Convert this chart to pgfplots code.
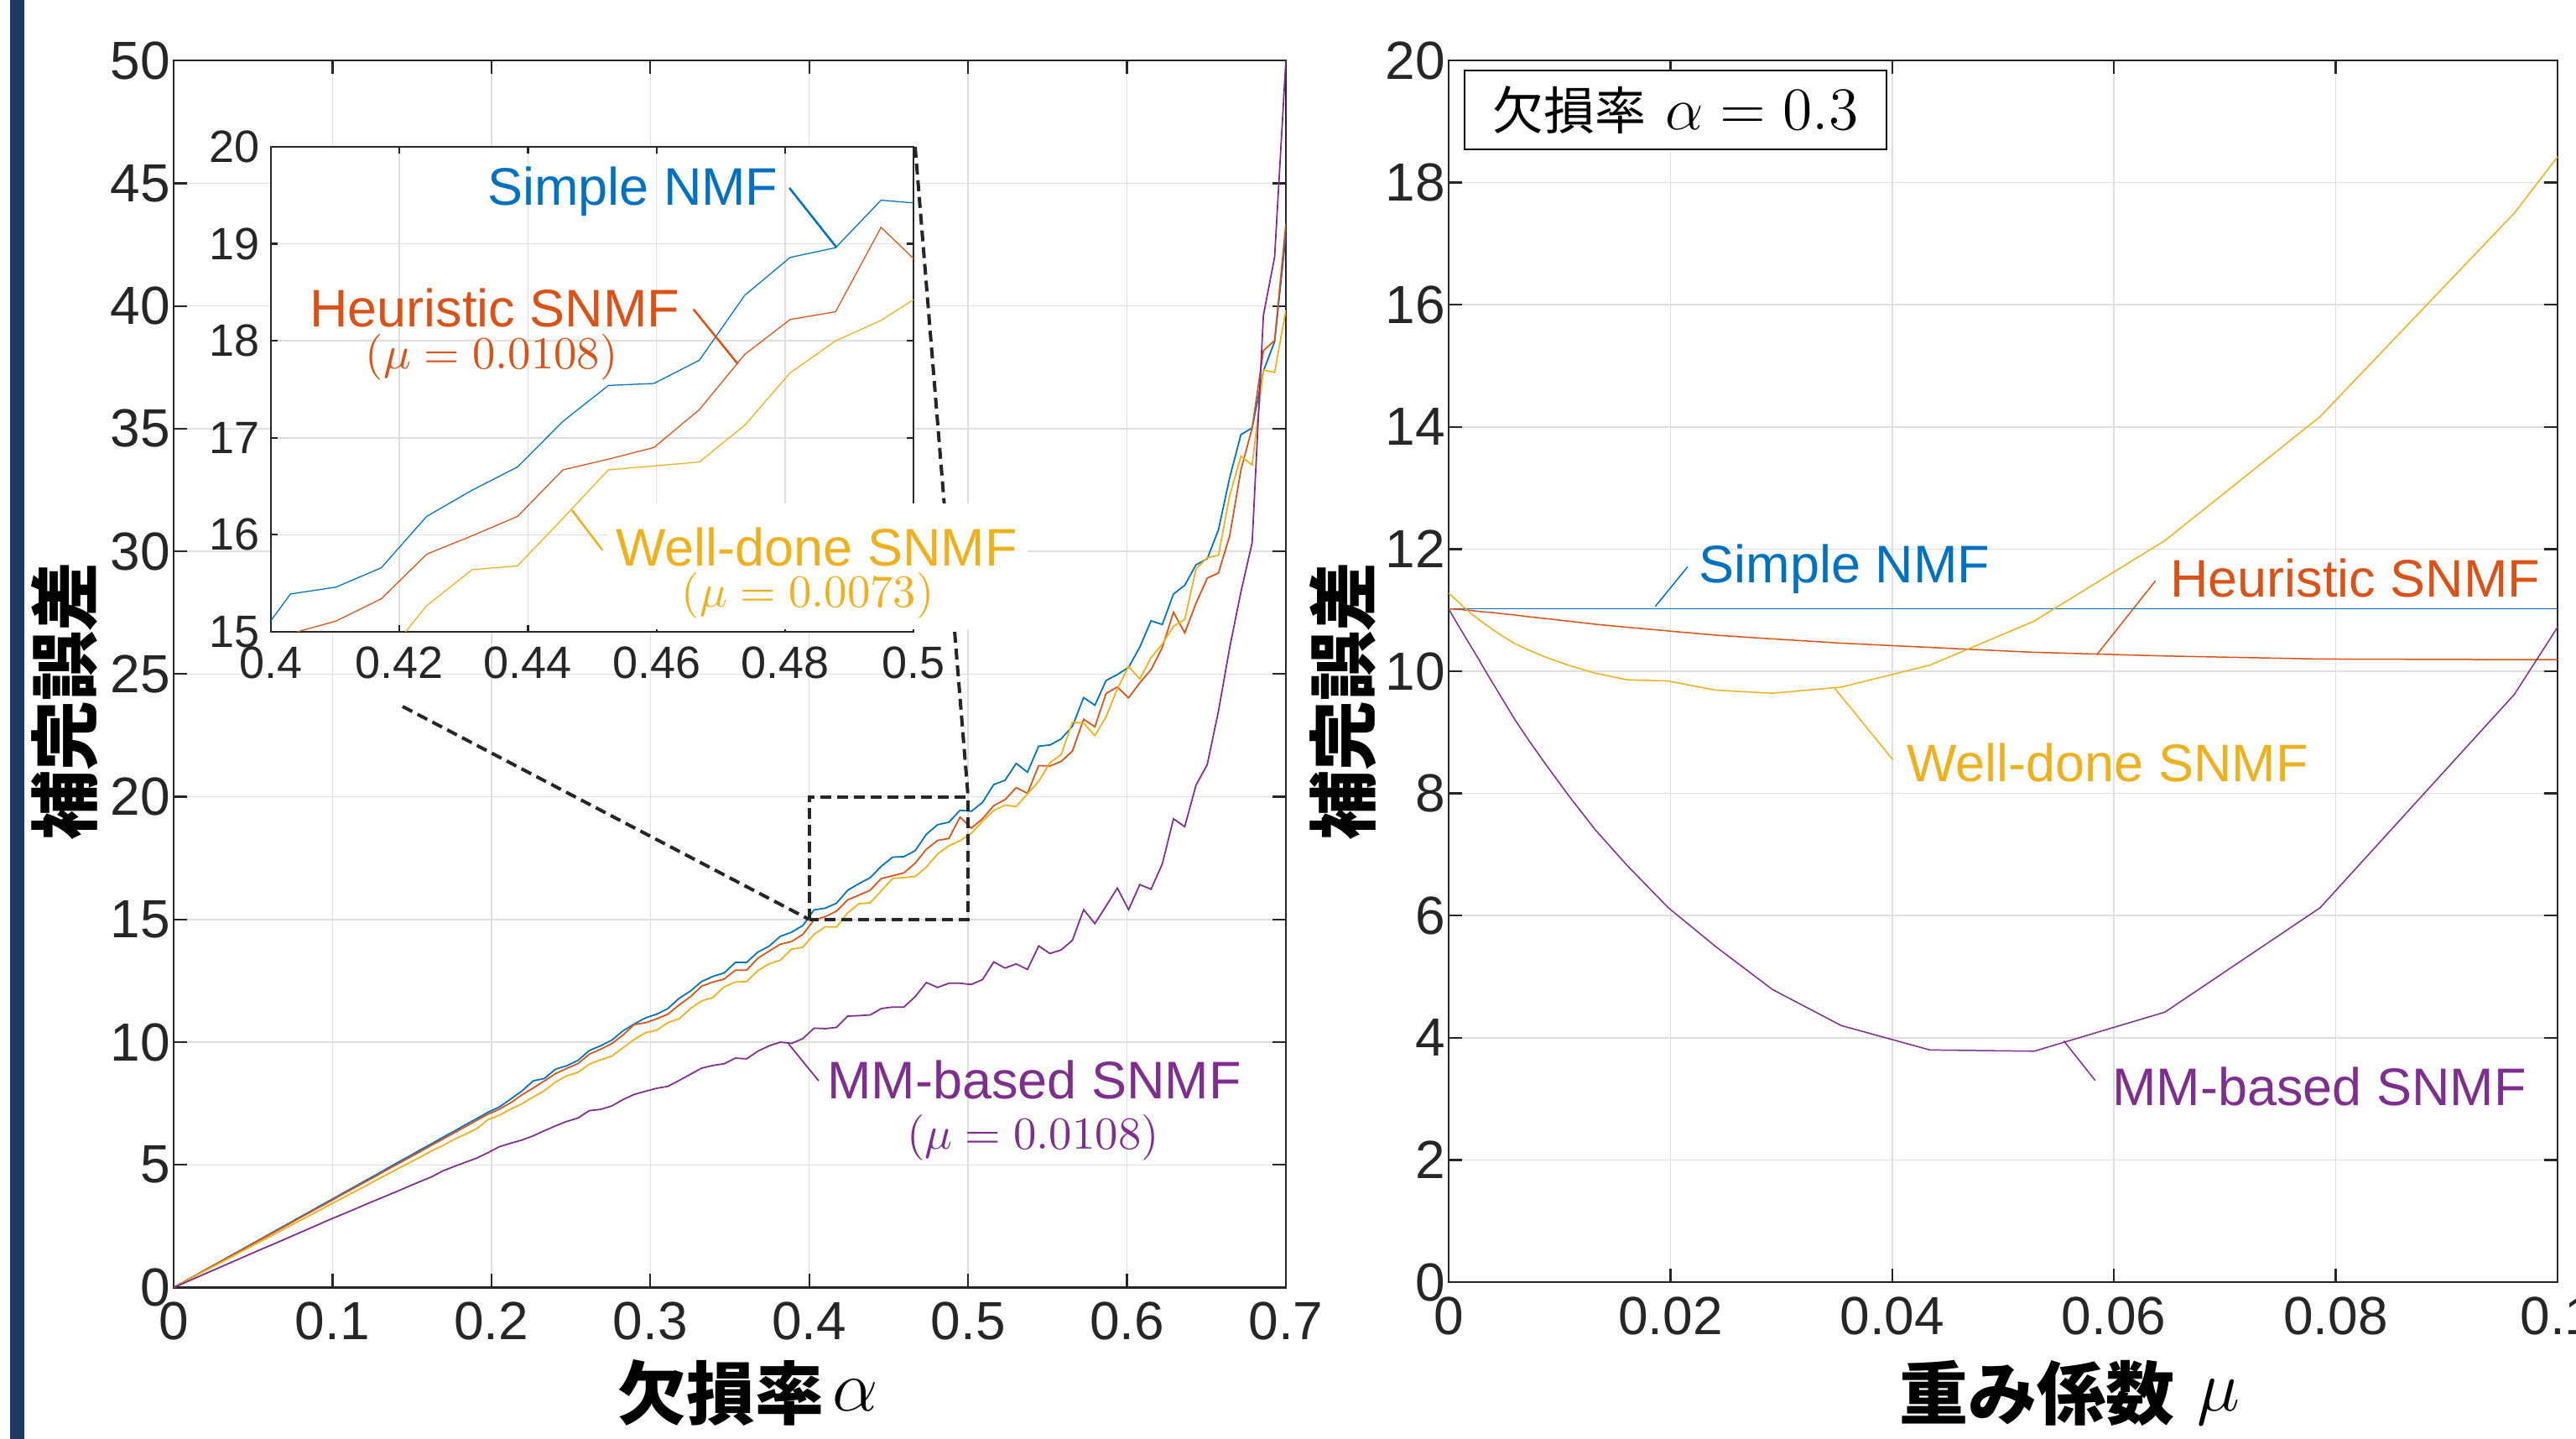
\documentclass[border=0pt]{standalone}
\usepackage[no-math]{fontspec}
\setmainfont{Liberation Sans}
\newfontfamily\cjk{Noto Sans CJK JP}
\usepackage{pgfplots}
\usepackage{pgfplotstable}
\pgfplotsset{compat=1.18}

\definecolor{c1}{HTML}{0072BD}
\definecolor{c2}{HTML}{D95319}
\definecolor{c3}{HTML}{EDB120}
\definecolor{c4}{HTML}{7E2F8E}
\definecolor{axc}{HTML}{262626}
\definecolor{gridc}{HTML}{DFDFDF}
\definecolor{navy}{HTML}{1B3A5F}

% error vs missing rate (mu fixed per method)
\pgfplotstableread{
a b r y p
0 0 0 0 0
0.00707 0.26 0.25 0.24 0.20
0.01414 0.51 0.50 0.49 0.40
0.02121 0.77 0.76 0.73 0.60
0.02828 1.02 1.01 0.97 0.80
0.03535 1.28 1.26 1.21 1.00
0.04242 1.53 1.51 1.46 1.20
0.04949 1.79 1.77 1.70 1.40
0.05657 2.04 2.02 1.94 1.60
0.06364 2.30 2.27 2.18 1.79
0.07071 2.55 2.52 2.43 1.99
0.07778 2.81 2.78 2.67 2.19
0.08485 3.06 3.03 2.91 2.39
0.09192 3.32 3.28 3.15 2.59
0.09899 3.57 3.53 3.40 2.79
0.10606 3.83 3.79 3.64 2.98
0.11313 4.08 4.04 3.88 3.17
0.12020 4.34 4.29 4.12 3.37
0.12727 4.59 4.54 4.37 3.56
0.13434 4.85 4.80 4.61 3.75
0.14141 5.11 5.05 4.85 3.94
0.14848 5.36 5.30 5.09 4.14
0.15556 5.62 5.55 5.33 4.33
0.16263 5.87 5.81 5.58 4.52
0.16970 6.13 6.06 5.79 4.76
0.17677 6.38 6.31 6.05 4.94
0.18384 6.64 6.56 6.25 5.11
0.19091 6.89 6.82 6.48 5.28
0.19798 7.15 7.07 6.85 5.50
0.20505 7.36 7.27 7.02 5.74
0.21212 7.68 7.53 7.27 5.88
0.21919 8.01 7.85 7.49 6.01
0.22626 8.42 8.13 7.76 6.18
0.23333 8.52 8.42 8.02 6.39
0.24040 8.90 8.72 8.38 6.59
0.24747 9.04 8.93 8.63 6.77
0.25455 9.26 9.13 8.77 6.91
0.26162 9.66 9.51 9.10 7.21
0.26869 9.85 9.71 9.28 7.26
0.27576 10.08 9.94 9.43 7.40
0.28283 10.46 10.29 9.77 7.66
0.28990 10.74 10.72 10.11 7.87
0.29697 10.99 10.79 10.38 8.00
0.30404 11.14 10.95 10.49 8.12
0.31111 11.37 11.14 10.80 8.20
0.31818 11.79 11.52 10.95 8.44
0.32525 12.08 11.85 11.37 8.69
0.33232 12.47 12.28 11.68 8.94
0.33939 12.68 12.45 11.82 9.05
0.34646 12.82 12.57 12.25 9.12
0.35354 13.25 12.93 12.45 9.35
0.36061 13.25 12.93 12.47 9.32
0.36768 13.67 13.42 12.91 9.63
0.37475 13.91 13.71 13.19 9.85
0.38182 14.31 13.99 13.34 10.00
0.38889 14.48 14.10 13.79 9.95
0.39596 14.75 14.39 13.87 10.14
0.40303 15.39 14.98 14.39 10.57
0.41010 15.46 15.11 14.70 10.55
0.41717 15.66 15.34 14.69 10.60
0.42424 16.19 15.80 15.27 11.06
0.43131 16.46 15.99 15.64 11.08
0.43838 16.70 16.19 15.68 11.11
0.44545 17.17 16.67 16.17 11.37
0.45253 17.54 16.78 16.67 11.43
0.45960 17.56 16.90 16.71 11.43
0.46667 17.80 17.29 16.75 11.85
0.47374 18.47 17.86 17.13 12.43
0.48081 18.86 18.22 17.67 12.23
0.48788 18.96 18.30 18.00 12.40
0.49495 19.45 19.17 18.21 12.40
0.50202 19.41 18.72 18.51 12.35
0.50909 19.77 19.10 19.00 12.55
0.51616 20.50 19.64 19.44 13.27
0.52323 20.67 19.88 19.66 13.02
0.53030 21.36 20.37 19.60 13.19
0.53737 21.00 20.14 20.12 12.96
0.54444 22.06 21.27 20.63 13.92
0.55152 22.11 21.25 21.38 13.61
0.55859 22.36 21.44 21.72 13.76
0.56566 22.87 21.86 23.04 14.15
0.57273 24.04 23.16 23.00 15.40
0.57980 23.73 22.85 22.49 14.83
0.58687 24.74 24.21 23.26 15.55
0.59394 24.98 24.47 24.40 16.28
0.60101 25.27 24.03 25.31 15.40
0.60808 26.10 24.64 24.80 16.42
0.61515 27.17 25.18 25.67 16.23
0.62222 27.02 26.08 26.22 17.26
0.62929 28.26 27.52 26.95 19.10
0.63636 28.62 26.68 27.22 18.78
0.64343 29.45 27.88 29.28 20.47
0.65051 29.70 28.91 29.74 21.31
0.65758 30.88 29.12 29.84 23.49
0.66465 33.01 30.63 32.28 26.08
0.67172 34.76 33.32 33.88 28.35
0.67879 35.03 35.03 33.52 30.36
0.68586 37.35 38.18 37.39 39.62
0.69293 38.55 38.59 37.29 42.00
0.70000 42.90 43.35 39.83 50.00
}\mainT

% error vs weight mu at alpha = 0.3
\pgfplotstableread{
m s h w p
0 11.02 11.02 11.28 11.02
0.0012 11.02 11.01 11.08 10.65
0.0015 11.02 11.00 11.03 10.56
0.0018 11.02 11.00 10.98 10.47
0.0022 11.02 10.99 10.92 10.35
0.0027 11.02 10.98 10.85 10.20
0.0033 11.02 10.97 10.77 10.01
0.0040 11.02 10.96 10.68 9.80
0.0049 11.02 10.94 10.57 9.53
0.0060 11.02 10.92 10.45 9.20
0.0073 11.02 10.89 10.34 8.85
0.0089 11.02 10.86 10.22 8.44
0.0108 11.02 10.82 10.10 7.97
0.0132 11.02 10.77 9.97 7.41
0.0161 11.02 10.72 9.86 6.82
0.0198 11.02 10.66 9.84 6.13
0.0241 11.02 10.59 9.69 5.49
0.0292 11.02 10.53 9.64 4.79
0.0354 11.02 10.46 9.74 4.20
0.0434 11.02 10.39 10.10 3.80
0.0528 11.02 10.31 10.82 3.78
0.0646 11.02 10.25 12.14 4.42
0.0786 11.02 10.20 14.17 6.13
0.0961 11.02 10.19 17.50 9.62
0.1173 11.02 10.20 22.50 15.60
}\muT

\newcommand\annf{\fontsize{12.6}{14}\selectfont}
\newcommand\annm{\fontsize{11}{13}\selectfont}

\pgfplotsset{
  mlab/.style={
    scale only axis, anchor=south west,
    axis line style={draw=axc, line width=0.45pt},
    tick style={draw=axc, line width=0.45pt},
    tick align=inside, major tick length=3.2pt,
    grid=major, major grid style={draw=gridc, line width=0.3pt},
    tick label style={font=\fontsize{12.8}{15}\selectfont, text=axc},
    /pgf/number format/assume math mode=true,
    clip mode=individual,
  },
}

\begin{document}
\begin{tikzpicture}
\useasboundingbox (0,0) rectangle (614.2pt,343pt);
\clip (0,0) rectangle (614.2pt,343pt);
\fill[white] (0,0) rectangle (614.2pt,343pt);
\fill[navy] (2.4pt,0) rectangle (5.8pt,343pt);

% left: error vs alpha
\begin{axis}[mlab, at={(41.4pt,36.1pt)}, width=265.2pt, height=292.46pt,
  xmin=0, xmax=0.7, ymin=0, ymax=50,
  xtick={0,0.1,0.2,0.3,0.4,0.5,0.6,0.7},
  xticklabels={0,0.1,0.2,0.3,0.4,0.5,0.6,0.7},
  ytick={0,5,10,15,20,25,30,35,40,45,50},
  yticklabel style={xshift=2.7pt}]
\addplot[c1, line width=0.35pt] table[x=a,y=b]{\mainT};
\addplot[c2, line width=0.35pt] table[x=a,y=r]{\mainT};
\addplot[c3, line width=0.35pt] table[x=a,y=y]{\mainT};
\addplot[c4, line width=0.35pt] table[x=a,y=p]{\mainT};
\draw[axc, line width=0.8pt, dash pattern=on 2.6pt off 1.4pt]
  (axis cs:0.4,15) rectangle (axis cs:0.5,20);
\coordinate (zbl) at (axis cs:0.4,15);
\coordinate (ztr) at (axis cs:0.5,20);
\draw[c4, line width=0.35pt] (axis cs:0.387,9.93) -- (axis cs:0.406,8.42);
\node[c4, anchor=base, inner sep=0pt, font=\annf] at (axis cs:0.5417,7.69) {MM-based SNMF};
\node[c4, anchor=base, inner sep=0pt, font=\annm] at (axis cs:0.5408,5.63) {$(\mu = 0.0108)$};
\end{axis}

\draw[axc, line width=0.8pt, dash pattern=on 2.6pt off 1.4pt] (96pt,174.6pt) -- (zbl);
\draw[axc, line width=0.8pt, dash pattern=on 2.6pt off 1.4pt] (218.2pt,308pt) -- (ztr);

% inset: zoom of 0.4..0.5
\begin{axis}[mlab, at={(64.6pt,192.4pt)}, width=153.2pt, height=115.6pt,
  xmin=0.4, xmax=0.5, ymin=15, ymax=20,
  xtick={0.4,0.42,0.44,0.46,0.48,0.5},
  xticklabels={0.4,0.42,0.44,0.46,0.48,0.5},
  ytick={15,16,17,18,19,20},
  major tick length=1.6pt,
  tick label style={font=\fontsize{10.8}{12}\selectfont},
  yticklabel style={xshift=0.9pt},
  axis background/.style={fill=white}]
\addplot[c1, line width=0.25pt] table[x=a,y=b]{\mainT};
\addplot[c2, line width=0.25pt] table[x=a,y=r]{\mainT};
\addplot[c3, line width=0.25pt] table[x=a,y=y]{\mainT};
\node[c1, anchor=base, inner sep=0pt, font=\annf] at (axis cs:0.4563,19.40) {Simple NMF};
\draw[c1, line width=0.5pt] (axis cs:0.48068,19.577) -- (axis cs:0.48804,18.961);
\node[c2, anchor=base, inner sep=0pt, font=\annf] at (axis cs:0.43482,18.143) {Heuristic SNMF};
\node[c2, anchor=base, inner sep=0pt, font=\annm] at (axis cs:0.43436,17.715) {$(\mu = 0.0108)$};
\draw[c2, line width=0.5pt] (axis cs:0.46575,18.326) -- (axis cs:0.47268,17.760);
\draw[c3, line width=0.5pt] (axis cs:0.45159,15.842) -- (axis cs:0.44685,16.254);
\coordinate (wdA) at (axis cs:0.48493,15.681);
\coordinate (wdB) at (axis cs:0.48358,15.251);
\end{axis}

\fill[white] (144.8pt,193pt) rectangle (245pt,223pt);
\node[c3, anchor=base, inner sep=0pt, font=\annf] at (wdA) {Well-done SNMF};
\node[c3, anchor=base, inner sep=0pt, font=\annm] at (wdB) {$(\mu = 0.0073)$};

% right: error vs mu
\begin{axis}[mlab, at={(345.4pt,37.4pt)}, width=264.4pt, height=291.2pt,
  xmin=0, xmax=0.1, ymin=0, ymax=20,
  xtick={0,0.02,0.04,0.06,0.08,0.1},
  xticklabels={0,0.02,0.04,0.06,0.08,0.1},
  ytick={0,2,4,6,8,10,12,14,16,18,20},
  yticklabel style={xshift=2.7pt}]
\addplot[c1, line width=0.3pt] table[x=m,y=s]{\muT};
\addplot[c2, line width=0.3pt] table[x=m,y=h]{\muT};
\addplot[c3, line width=0.3pt] table[x=m,y=w]{\muT};
\addplot[c4, line width=0.3pt] table[x=m,y=p]{\muT};
\node[c1, anchor=base, inner sep=0pt, font=\annf] at (axis cs:0.0357,11.45) {Simple NMF};
\draw[c1, line width=0.3pt] (axis cs:0.02155,11.71) -- (axis cs:0.01864,11.06);
\node[c2, anchor=base, inner sep=0pt, font=\annf] at (axis cs:0.08175,11.22) {Heuristic SNMF};
\draw[c2, line width=0.3pt] (axis cs:0.06374,11.48) -- (axis cs:0.05845,10.27);
\node[c3, anchor=base, inner sep=0pt, font=\annf] at (axis cs:0.05944,8.19) {Well-done SNMF};
\draw[c3, line width=0.3pt] (axis cs:0.04007,8.55) -- (axis cs:0.03478,9.73);
\node[c4, anchor=base, inner sep=0pt, font=\annf] at (axis cs:0.07851,2.886) {MM-based SNMF};
\draw[c4, line width=0.3pt] (axis cs:0.05831,3.30) -- (axis cs:0.05547,3.95);
\node[draw=black, fill=white, line width=0.5pt, minimum width=100.6pt,
  minimum height=18.8pt, inner sep=0pt] at (axis cs:0.02046,19.19)
  {{\cjk\fontsize{12.2}{14}\selectfont 欠損率}\hspace{4.5pt}{\fontsize{15.3}{17}\selectfont$\alpha = 0.3$}};
\end{axis}

% axis titles
\node[rotate=90, inner sep=0pt] at (15.34pt,175.8pt)
  {\cjk\bfseries\fontsize{16.6}{18}\selectfont 補完誤差};
\node[rotate=90, inner sep=0pt] at (320.2pt,175.8pt)
  {\cjk\bfseries\fontsize{16.6}{18}\selectfont 補完誤差};
\node[anchor=base, inner sep=0pt] at (178.4pt,4.6pt)
  {{\cjk\bfseries\fontsize{16.4}{18}\selectfont 欠損率}\hspace{2pt}\raisebox{2pt}{\fontsize{18}{20}\selectfont$\alpha$}};
\node[anchor=base, inner sep=0pt] at (493.5pt,4.6pt)
  {{\cjk\bfseries\fontsize{16.4}{18}\selectfont 重み係数}\hspace{5.5pt}\raisebox{2pt}{\fontsize{18}{20}\selectfont$\mu$}};
\end{tikzpicture}
\end{document}
